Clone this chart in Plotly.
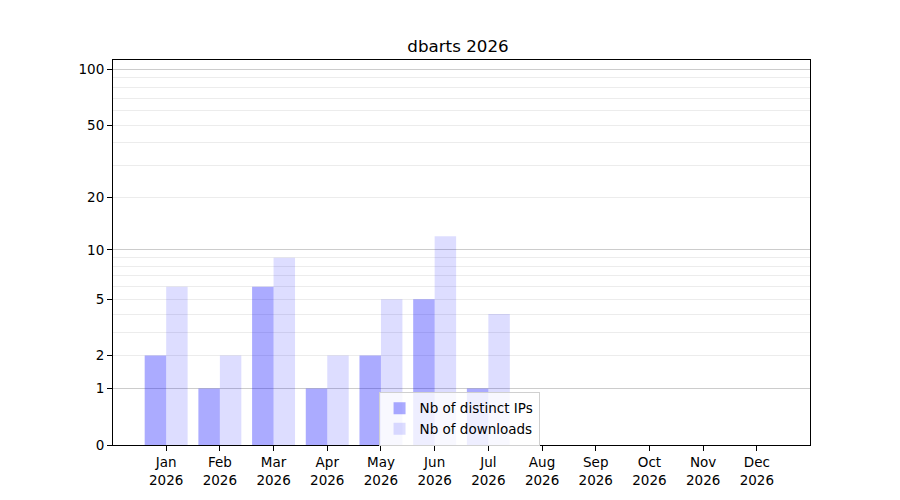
import numpy as np
import plotly.graph_objects as go

months = ["Jan", "Feb", "Mar", "Apr", "May", "Jun", "Jul", "Aug", "Sep", "Oct", "Nov", "Dec"]
year = "2026"
distinct_ips = [2, 1, 6, 1, 2, 5, 1, 0, 0, 0, 0, 0]
downloads = [6, 2, 9, 2, 5, 12, 4, 0, 0, 0, 0, 0]
tick_values = [0, 1, 2, 5, 10, 20, 50, 100]
major_grid = [1, 10, 100]
minor_grid = [2, 3, 4, 5, 6, 7, 8, 9, 20, 30, 40, 50, 60, 70, 80, 90]
y_max = 112.5


def tr(v):
    return np.log10(1 + np.asarray(v, dtype=float))


labels = [f"{m}<br>{year}" for m in months]
font = dict(family="DejaVu Sans", size=13.5, color="black")

fig = go.Figure()
fig.add_trace(go.Bar(x=labels, y=tr(distinct_ips), name="Nb of distinct IPs",
                     marker=dict(color="rgba(0,0,255,0.33)", line=dict(width=0))))
fig.add_trace(go.Bar(x=labels, y=tr(downloads), name="Nb of downloads",
                     marker=dict(color="rgba(0,0,255,0.135)", line=dict(width=0))))
# invisible trace to carry the major-grid axis
fig.add_trace(go.Scatter(x=[labels[0]], y=[0], yaxis="y2", mode="markers",
                         marker=dict(opacity=0), showlegend=False, hoverinfo="skip"))

yr = [0, float(tr(y_max))]
fig.update_layout(
    width=900, height=500,
    paper_bgcolor="white", plot_bgcolor="white",
    margin=dict(l=105, r=98, t=52, b=63),
    font=font,
    title=dict(text="dbarts 2026", x=0.5, xanchor="center", y=0.924, yanchor="middle",
               font=dict(family="DejaVu Sans", size=16.7, color="black")),
    barmode="group", bargap=0.2, bargroupgap=0,
    xaxis=dict(type="category", range=[-0.99, 11.99], showgrid=False,
               ticks="outside", ticklen=5, tickcolor="black", tickwidth=1,
               showline=True, linecolor="black", linewidth=1, mirror=True,
               tickfont=font),
    yaxis=dict(range=yr, showgrid=False, zeroline=False,
               tickmode="array", tickvals=list(tr(tick_values)),
               ticktext=[str(v) for v in tick_values],
               ticks="outside", ticklen=5, tickcolor="black", tickwidth=1,
               showline=True, linecolor="black", linewidth=1, mirror=True,
               tickfont=font,
               minor=dict(tickmode="array", tickvals=list(tr(minor_grid)),
                          showgrid=True, gridcolor="#ececec", gridwidth=1, ticks="")),
    yaxis2=dict(range=yr, overlaying="y", side="left", showgrid=True,
                gridcolor="#cccccc", gridwidth=1, zeroline=False,
                tickmode="array", tickvals=list(tr(major_grid)),
                showticklabels=False, ticks="", showline=False, layer="below traces"),
    legend=dict(x=0.381, y=0.138, xanchor="left", yanchor="top",
                bgcolor="rgba(255,255,255,0.8)", bordercolor="#d0d0d0", borderwidth=1,
                font=font, tracegroupgap=0, itemwidth=30),
)

fig.write_html("out.html")
